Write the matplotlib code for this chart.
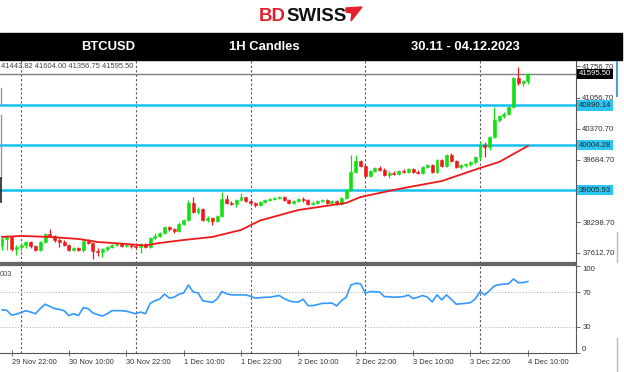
import numpy as np
import matplotlib.pyplot as plt
import matplotlib.transforms as mtransforms
from matplotlib.patches import Rectangle, Polygon

plt.rcParams['font.family'] = ['Liberation Sans', 'DejaVu Sans']

W, H = 624, 372

# BTCUSD hourly candles, 29 Nov 20:00 -> 4 Dec 10:00 (open = previous close)
first_open = 37768
closes = [37924, 37969, 37702, 37746, 37791, 37857, 37768, 37679, 37857, 38035,
          37991, 37902, 37857, 37791, 37679, 37724, 37679, 37880, 37835, 37657,
          37635, 37702, 37746, 37791, 37813, 37768, 37791, 37768, 37746, 37813,
          37746, 37946, 37991, 38057, 38190, 38146, 38102, 38257, 38346, 38724,
          38524, 38590, 38346, 38390, 38324, 38435, 38813, 38724, 38702, 38790,
          38857, 38768, 38724, 38679, 38746, 38790, 38813, 38835, 38857, 38790,
          38724, 38768, 38813, 38790, 38702, 38724, 38768, 38790, 38724, 38768,
          38702, 38835, 39013, 39413, 39657, 39546, 39324, 39435, 39502, 39457,
          39346, 39391, 39368, 39435, 39413, 39479, 39413, 39391, 39524, 39568,
          39413, 39679, 39546, 39790, 39657, 39524, 39568, 39590, 39635, 39746,
          40012, 39968, 40190, 40568, 40657, 40701, 40857, 41501, 41390, 41443.82, 41595.50]
highs = [37969, 38013, 37969, 37791, 37835, 37880, 37880, 37791, 37880, 38057,
         38146, 38013, 37946, 37902, 37813, 37746, 37746, 37902, 37924, 37857,
         37724, 37724, 37768, 37813, 37835, 37835, 37813, 37813, 37791, 37835,
         37835, 37969, 38057, 38079, 38213, 38213, 38168, 38301, 38368, 38790,
         38857, 38635, 38613, 38435, 38413, 38457, 38968, 38901, 38768, 38813,
         38946, 38857, 38790, 38746, 38768, 38813, 38835, 38857, 38879, 38879,
         38813, 38790, 38835, 38857, 38813, 38768, 38790, 38813, 38813, 38790,
         38790, 38857, 39035, 39790, 39790, 39679, 39590, 39457, 39524, 39546,
         39502, 39435, 39435, 39457, 39479, 39502, 39502, 39457, 39546, 39590,
         39590, 39701, 39701, 39812, 39835, 39679, 39590, 39612, 39657, 39768,
         40101, 40079, 40212, 40857, 40679, 40746, 40879, 41523, 41745, 41460, 41604.00]
lows = [37679, 37679, 37657, 37568, 37657, 37724, 37724, 37657, 37657, 37835,
        37969, 37857, 37746, 37768, 37657, 37657, 37657, 37635, 37813, 37479,
        37546, 37524, 37657, 37724, 37768, 37746, 37746, 37724, 37724, 37613,
        37724, 37724, 37924, 37969, 38035, 38102, 38057, 38079, 38235, 38324,
        38502, 38479, 38324, 38301, 38235, 38301, 38413, 38702, 38679, 38635,
        38768, 38746, 38702, 38635, 38657, 38724, 38768, 38790, 38813, 38768,
        38702, 38702, 38746, 38746, 38679, 38679, 38702, 38746, 38702, 38724,
        38679, 38679, 38813, 38990, 39391, 39524, 39302, 39302, 39413, 39435,
        39324, 39280, 39346, 39346, 39391, 39391, 39391, 39368, 39368, 39502,
        39391, 39391, 39524, 39524, 39635, 39502, 39479, 39524, 39546, 39590,
        39679, 39746, 39901, 40168, 40523, 40612, 40679, 40835, 41345, 41323, 41356.75]

# moving average (red line), read at some candles
ma_idx = [0, 4, 10, 16, 20, 26, 30, 33, 38, 44, 50, 54, 62, 72, 75, 83, 92, 100, 104, 110]
ma_val = [37969, 37991, 37969, 37924, 37857, 37813, 37779, 37835, 37901, 37969,
          38124, 38335, 38568, 38724, 38857, 39035, 39212, 39501, 39635, 39990]

# oscillator in lower panel
rsi = [49.5, 49, 43.5, 44.5, 46.5, 48.5, 47, 45, 51, 56,
       53.5, 51, 50, 48.5, 43, 45, 43, 52, 51, 46,
       44, 42.5, 45, 48.6, 48.6, 48.6, 48, 46.5, 45, 47,
       45, 57, 60, 62, 67.5, 63, 64, 67.5, 69, 78,
       70, 69, 60, 59, 58, 62, 70.5, 68, 66.7, 66.7,
       66.7, 66.7, 65, 63, 63.5, 64, 64, 65, 66, 62.5,
       60, 58.6, 58.6, 61.7, 54.4, 54.4, 55.5, 57, 57, 57.5,
       54, 60, 64, 78, 80, 79.5, 68.6, 70.5, 70.3, 70,
       64.7, 64.5, 64, 64.3, 64.7, 66.5, 62.5, 64, 66, 64,
       58.6, 66.7, 61, 66.7, 61.5, 56, 56.5, 57, 57.8, 62,
       70.5, 66.7, 71.6, 77, 78.5, 79, 79.5, 85, 80.8, 80.8, 82]

levels = [40890.14, 40004.28, 39005.93]
last_price = 41595.50
price_ticks = [37612.70, 38298.70, 39684.70, 40370.70, 41056.70, 41756.70]
midnights = [4, 28, 52, 76, 100]
date_idx = [2, 14, 26, 38, 50, 62, 74, 86, 98, 110]
date_labels = ['29 Nov 22:00', '30 Nov 10:00', '30 Nov 22:00', '1 Dec 10:00', '1 Dec 22:00',
               '2 Dec 10:00', '2 Dec 22:00', '3 Dec 10:00', '3 Dec 22:00', '4 Dec 10:00']

GREEN = '#10E010'
RED = '#F01818'
CYAN = '#14C0F4'
TXT = '#333333'

fig = plt.figure(figsize=(W / 100, H / 100), dpi=100)


def px_axes(x0, y0, x1, y1):
    return fig.add_axes([x0 / W, 1 - y1 / H, (x1 - x0) / W, (y1 - y0) / H])


def fp(x, y):
    return x / W, 1 - y / H


# ---- logo + black title bar
fig.text(*fp(286, 21), 'BD', color='#E3202B', fontsize=13.4, fontweight='bold', ha='right', va='baseline')
fig.text(*fp(286, 21), 'SWISS', color='#111111', fontsize=13.4, fontweight='bold', ha='left', va='baseline')
fig.patches.append(Polygon([fp(346, 8), fp(362, 7), fp(351, 21), fp(352, 13), fp(346, 12)],
                           closed=True, color='#E3202B', transform=fig.transFigure))

fig.patches.append(Rectangle(fp(0, 60), 622 / W, 27 / H, color='black', transform=fig.transFigure))
for xc, s in [(108, 'BTCUSD'), (264, '1H Candles'), (465, '30.11 - 04.12.2023')]:
    fig.text(*fp(xc, 47), s, color='white', fontsize=9.4, fontweight='bold', ha='center', va='center')

# ---- main price panel
ax = px_axes(0, 60, 576, 263)
xlim = (-0.42, 120.08)
idx = np.arange(len(closes))
opens = np.array([first_open] + closes[:-1])
cl = np.array(closes)
up = cl >= opens
cols = np.where(up, GREEN, RED)

for lvl in levels:
    ax.axhline(lvl, color=CYAN, lw=1.8, zorder=2)
ax.axhline(last_price, color='#808080', lw=1.0, zorder=2)
for m in midnights:
    ax.axvline(m, color='#555555', lw=0.8, ls=(0, (2, 2)), zorder=1)

ax.vlines(idx, lows, highs, colors=cols, lw=0.9, zorder=3)
ax.bar(idx, cl - opens, bottom=opens, width=0.62, color=cols, edgecolor=cols, linewidth=0.4, zorder=4)
ax.plot(ma_idx, ma_val, color=RED, lw=1.3, zorder=5)

ax.set_xlim(*xlim)
ax.set_ylim(37390, 41901)
ax.set_xticks([])
ax.yaxis.tick_right()
ax.set_yticks(price_ticks)
ax.set_yticklabels([f'{v:.2f}' for v in price_ticks])
ax.tick_params(axis='y', length=3, width=0.6, pad=1.5, labelsize=5.6, labelcolor=TXT, color='#555555')
for side in ['left', 'top']:
    ax.spines[side].set_visible(False)
ax.spines['right'].set_color('#555555')
ax.spines['right'].set_linewidth(0.8)
ax.spines['bottom'].set_color('#666666')
ax.spines['bottom'].set_linewidth(1.6)

tr = mtransforms.blended_transform_factory(ax.transAxes, ax.transData)
for lvl in levels:
    ax.text(1.005, lvl, f'{lvl:.2f}', transform=tr, ha='left', va='center', fontsize=5.6, color='#222222',
            bbox=dict(boxstyle='square,pad=0.2', fc='#2CC6F4', ec='none'), clip_on=False, zorder=6)
ax.text(1.005, last_price, f'{last_price:.2f}', transform=tr, ha='left', va='center', fontsize=5.6,
        color='white', bbox=dict(boxstyle='square,pad=0.2', fc='black', ec='none'), clip_on=False, zorder=6)

ax.text(0.002, 0.985, '41443.82 41604.00 41356.75 41595.50', transform=ax.transAxes, ha='left', va='top',
        fontsize=5.4, color='#444444')

# ---- lower oscillator panel
ax2 = px_axes(0, 265, 576, 353)
for m in midnights:
    ax2.axvline(m, color='#555555', lw=0.8, ls=(0, (2, 2)), zorder=1)
for g in [70, 30]:
    ax2.axhline(g, color='#aaaaaa', lw=0.6, ls=(0, (1.5, 2)), zorder=1)
ax2.plot(idx, rsi, color='#3399FF', lw=1.2, zorder=3)
ax2.set_xlim(*xlim)
ax2.set_ylim(0, 101)
ax2.yaxis.tick_right()
ax2.set_yticks([100, 70, 30, 0])
ax2.set_yticklabels(['100', '70', '30', '0'])
ax2.tick_params(axis='y', length=3, width=0.6, pad=1.5, labelsize=5.6, labelcolor=TXT, color='#555555')
labs = ax2.get_yticklabels()
labs[0].set_va('top')
labs[-1].set_va('bottom')
ax2.set_xticks(date_idx)
ax2.set_xticklabels(date_labels)
ax2.tick_params(axis='x', length=4, width=0.6, direction='inout', pad=2.5, labelsize=5.4,
                labelcolor=TXT, color='#555555')
for lab in ax2.get_xticklabels():
    lab.set_ha('left')
ax2.spines['left'].set_visible(False)
ax2.spines['top'].set_color('#666666')
ax2.spines['top'].set_linewidth(1.6)
for side in ['right', 'bottom']:
    ax2.spines[side].set_color('#555555')
    ax2.spines[side].set_linewidth(0.8)
ax2.text(0.0, 0.93, '003', transform=ax2.transAxes, ha='left', va='top', fontsize=5.4, color='#444444')

# ---- window edges
fig.lines.append(plt.Line2D([0.6 / W] * 2, [1 - 88 / H, 1 - 105 / H], color='#999999', lw=1, transform=fig.transFigure))
fig.lines.append(plt.Line2D([0.6 / W] * 2, [1 - 115 / H, 1 - 178 / H], color='#999999', lw=1, transform=fig.transFigure))
fig.lines.append(plt.Line2D([0.6 / W] * 2, [1 - 178 / H, 1 - 202 / H], color='#222222', lw=1.2, transform=fig.transFigure))
fig.lines.append(plt.Line2D([617 / W] * 2, [1 - 62 / H, 1 - 96 / H], color='#5b9bd5', lw=1.5, transform=fig.transFigure))
fig.lines.append(plt.Line2D([617 / W] * 2, [1 - 232 / H, 1 - 262 / H], color='#bbbbbb', lw=1, transform=fig.transFigure))
fig.lines.append(plt.Line2D([617 / W] * 2, [1 - 338 / H, 1 - 372 / H], color='#bbbbbb', lw=1, transform=fig.transFigure))

fig.savefig('out.png', dpi=100, facecolor='white')
